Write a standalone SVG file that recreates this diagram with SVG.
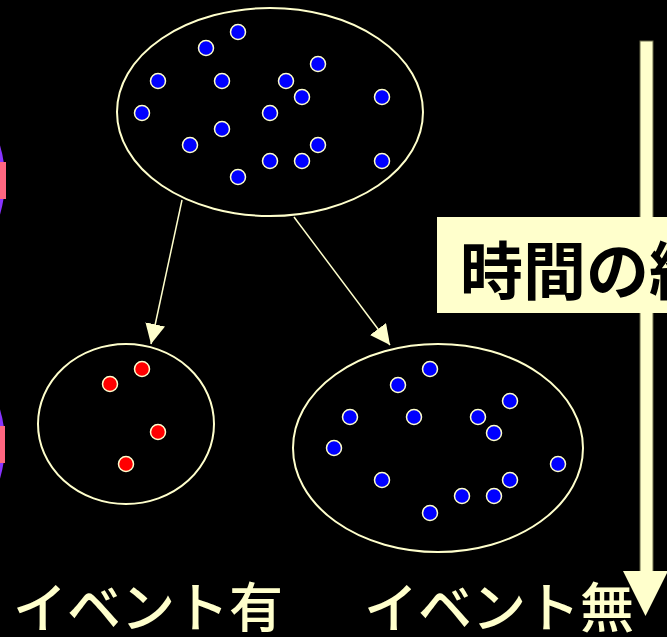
<svg xmlns="http://www.w3.org/2000/svg" width="667" height="637" viewBox="0 0 667 637">
<style>
.set{fill:none;stroke:#FFFFCC;stroke-width:2}
.b{fill:#0000FF;stroke:#FFFFCC;stroke-width:1.5}
.r{fill:#FF0000;stroke:#FFFFCC;stroke-width:1.5}
.con{stroke:#FFFFCC;stroke-width:1.5;fill:none}
.lbl{font-family:"Noto Sans CJK JP","Noto Sans",sans-serif;fill:#FFFFCC;font-size:54px;font-weight:500}
.ttl{font-family:"Noto Sans CJK JP","Noto Sans",sans-serif;fill:#000000;font-size:63px;font-weight:bold}
</style>
<defs>
<marker id="ah" markerWidth="20" markerHeight="20" refX="20" refY="10" orient="auto" markerUnits="userSpaceOnUse" viewBox="0 0 20 20">
<path d="M0,0 L20,10 L0,20 Z" fill="#FFFFCC"/>
</marker>
</defs>
<rect width="667" height="637" fill="#000000"/>
<g id="edge-shapes">
<ellipse cx="-60" cy="180" rx="65" ry="90" fill="#8833FF"/>
<rect x="-10" y="162" width="16" height="37" fill="#FF6680"/>
<ellipse cx="-60" cy="444" rx="65" ry="90" fill="#8833FF"/>
<rect x="-10" y="426" width="15" height="37" fill="#FF6680"/>
</g>
<g id="all-set">
<ellipse class="set" cx="270" cy="112" rx="153" ry="104"/>
<circle class="b" cx="238" cy="32" r="7.5"/>
<circle class="b" cx="206" cy="48" r="7.5"/>
<circle class="b" cx="158" cy="81" r="7.5"/>
<circle class="b" cx="222" cy="81" r="7.5"/>
<circle class="b" cx="286" cy="81" r="7.5"/>
<circle class="b" cx="318" cy="64" r="7.5"/>
<circle class="b" cx="302" cy="97" r="7.5"/>
<circle class="b" cx="382" cy="97" r="7.5"/>
<circle class="b" cx="142" cy="113" r="7.5"/>
<circle class="b" cx="270" cy="113" r="7.5"/>
<circle class="b" cx="222" cy="129" r="7.5"/>
<circle class="b" cx="190" cy="145" r="7.5"/>
<circle class="b" cx="318" cy="145" r="7.5"/>
<circle class="b" cx="270" cy="161" r="7.5"/>
<circle class="b" cx="302" cy="161" r="7.5"/>
<circle class="b" cx="382" cy="161" r="7.5"/>
<circle class="b" cx="238" cy="177" r="7.5"/>
</g>
<g id="event-set">
<ellipse class="set" cx="126" cy="424" rx="88" ry="80"/>
<circle class="r" cx="142" cy="369" r="7.5"/>
<circle class="r" cx="110" cy="384" r="7.5"/>
<circle class="r" cx="158" cy="432" r="7.5"/>
<circle class="r" cx="126" cy="464" r="7.5"/>
</g>
<g id="no-event-set">
<ellipse class="set" cx="438" cy="448" rx="145" ry="104"/>
<circle class="b" cx="430" cy="369" r="7.5"/>
<circle class="b" cx="398" cy="385" r="7.5"/>
<circle class="b" cx="350" cy="417" r="7.5"/>
<circle class="b" cx="414" cy="417" r="7.5"/>
<circle class="b" cx="478" cy="417" r="7.5"/>
<circle class="b" cx="510" cy="401" r="7.5"/>
<circle class="b" cx="494" cy="433" r="7.5"/>
<circle class="b" cx="334" cy="448" r="7.5"/>
<circle class="b" cx="558" cy="464" r="7.5"/>
<circle class="b" cx="382" cy="480" r="7.5"/>
<circle class="b" cx="510" cy="480" r="7.5"/>
<circle class="b" cx="462" cy="496" r="7.5"/>
<circle class="b" cx="494" cy="496" r="7.5"/>
<circle class="b" cx="430" cy="513" r="7.5"/>
</g>
<g id="connectors">
<line class="con" x1="182" y1="200" x2="151" y2="344" marker-end="url(#ah)"/>
<line class="con" x1="294" y1="217" x2="390" y2="345" marker-end="url(#ah)"/>
</g>
<g id="label-event">
<text class="lbl" x="13" y="628">イベント有</text>
</g>
<g id="label-no-event">
<text class="lbl" x="364" y="628">イベント無</text>
</g>
<g id="time-axis">
<rect x="640" y="41" width="13" height="535" fill="#FFFFCC" stroke="#6B6B4A" stroke-width="1"/>
<path d="M623,571 L668,571 L645.5,616 Z" fill="#FFFFCC"/>
</g>
<g id="time-label">
<rect x="437" y="217" width="240" height="96" fill="#FFFFCC"/>
<text class="ttl" x="460" y="294">時間の経過</text>
</g>
</svg>
